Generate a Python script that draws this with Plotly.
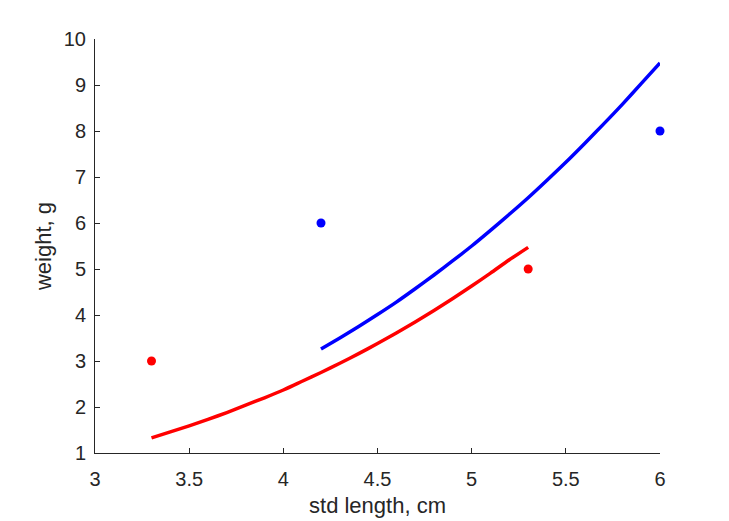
import plotly.graph_objects as go

# fitted curves
red_x = [3.3, 3.4, 3.5, 3.6, 3.7, 3.8, 3.9, 4.0, 4.1, 4.2, 4.3, 4.4, 4.5, 4.6, 4.7, 4.8, 4.9, 5.0, 5.1, 5.2, 5.3]
red_y = [1.33, 1.46, 1.59, 1.73, 1.88, 2.04, 2.20, 2.37, 2.56, 2.75, 2.95, 3.16, 3.38, 3.61, 3.85, 4.10, 4.36, 4.63, 4.91, 5.20, 5.47]
blue_x = [4.2, 4.3, 4.4, 4.5, 4.6, 4.7, 4.8, 4.9, 5.0, 5.1, 5.2, 5.3, 5.4, 5.5, 5.6, 5.7, 5.8, 5.9, 6.0]
blue_y = [3.26, 3.50, 3.75, 4.01, 4.28, 4.57, 4.87, 5.18, 5.50, 5.84, 6.19, 6.55, 6.93, 7.32, 7.73, 8.15, 8.58, 9.03, 9.48]

# observed points
red_pts_x = [3.3, 5.3]
red_pts_y = [3, 5]
blue_pts_x = [4.2, 6.0]
blue_pts_y = [6, 8]

x_ticks = [3, 3.5, 4, 4.5, 5, 5.5, 6]
x_tick_labels = ["3", "3.5", "4", "4.5", "5", "5.5", "6"]
y_ticks = list(range(1, 11))

fig = go.Figure()
fig.add_trace(go.Scatter(x=red_x, y=red_y, mode="lines", line=dict(color="#ff0000", width=3.5, shape="spline", smoothing=0.6), cliponaxis=False))
fig.add_trace(go.Scatter(x=blue_x, y=blue_y, mode="lines", line=dict(color="#0000ff", width=3.5, shape="spline", smoothing=0.6), cliponaxis=False))
fig.add_trace(go.Scatter(x=red_pts_x, y=red_pts_y, mode="markers", marker=dict(color="#ff0000", size=9), cliponaxis=False))
fig.add_trace(go.Scatter(x=blue_pts_x, y=blue_pts_y, mode="markers", marker=dict(color="#0000ff", size=9), cliponaxis=False))

axis_color = "#262626"
fig.update_layout(
    width=729, height=521,
    margin=dict(l=95, r=69, t=39, b=68),
    paper_bgcolor="white", plot_bgcolor="white",
    showlegend=False,
    font=dict(family="Liberation Sans, Arial, sans-serif", color=axis_color, size=20),
    xaxis=dict(
        range=[3, 6], tickvals=x_ticks, ticktext=x_tick_labels,
        showgrid=False, zeroline=False, showline=True, linecolor=axis_color, linewidth=1,
        ticks="inside", ticklen=5, tickcolor=axis_color, tickfont=dict(size=20),
        ticklabelstandoff=8, automargin=False,
        title=dict(text="std length, cm", font=dict(size=22), standoff=8),
    ),
    yaxis=dict(
        range=[1, 10], tickvals=y_ticks,
        showgrid=False, zeroline=False, showline=True, linecolor=axis_color, linewidth=1,
        ticks="inside", ticklen=5, tickcolor=axis_color, tickfont=dict(size=20),
        ticklabelstandoff=4, automargin=False,
        title=dict(text="weight, g", font=dict(size=22), standoff=6),
    ),
)
fig.write_html("out.html")
